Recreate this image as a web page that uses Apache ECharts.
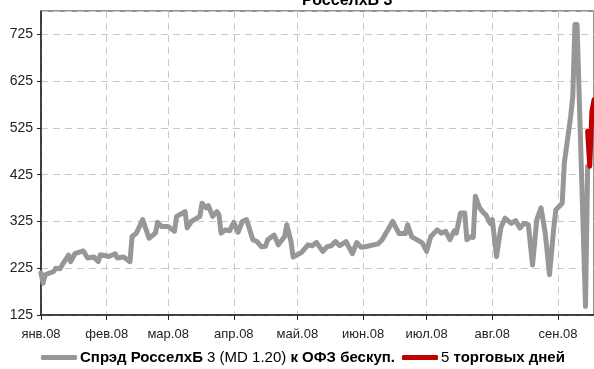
<!DOCTYPE html>
<html><head><meta charset="utf-8">
<script src="https://cdn.jsdelivr.net/npm/echarts@6/dist/echarts.min.js"></script>
<style>html,body{margin:0;padding:0;background:#fff}#c{width:594px;height:369px}</style>
</head><body><div id="c"></div>
<script>
const grayDates = [
'2008-01-01','2008-01-02','2008-01-03','2008-01-07','2008-01-08','2008-01-10','2008-01-11','2008-01-14','2008-01-15','2008-01-17',
'2008-01-21','2008-01-23','2008-01-26','2008-01-28','2008-01-29','2008-02-02','2008-02-05','2008-02-06','2008-02-09','2008-02-12',
'2008-02-13','2008-02-15','2008-02-18','2008-02-21','2008-02-24','2008-02-25','2008-02-27','2008-03-01','2008-03-04','2008-03-05',
'2008-03-09','2008-03-10','2008-03-12','2008-03-16','2008-03-17','2008-03-19','2008-03-20','2008-03-22','2008-03-24','2008-03-25',
'2008-03-26','2008-03-28','2008-03-30','2008-04-01','2008-04-03','2008-04-05','2008-04-07','2008-04-10','2008-04-12','2008-04-14',
'2008-04-16','2008-04-17','2008-04-20','2008-04-22','2008-04-25','2008-04-26','2008-04-28','2008-04-29','2008-05-03','2008-05-06',
'2008-05-08','2008-05-10','2008-05-13','2008-05-15','2008-05-17','2008-05-19','2008-05-21','2008-05-24','2008-05-27','2008-05-29',
'2008-05-31','2008-06-02','2008-06-08','2008-06-10','2008-06-15','2008-06-18','2008-06-21','2008-06-22','2008-06-24','2008-06-28',
'2008-06-29','2008-07-01','2008-07-03','2008-07-06','2008-07-08','2008-07-10','2008-07-12','2008-07-14','2008-07-15','2008-07-17',
'2008-07-19','2008-07-20','2008-07-22','2008-07-23','2008-07-24','2008-07-26','2008-07-28','2008-07-29','2008-07-31','2008-08-01',
'2008-08-03','2008-08-05','2008-08-07','2008-08-10','2008-08-12','2008-08-14','2008-08-16','2008-08-18','2008-08-20','2008-08-22',
'2008-08-24','2008-08-26','2008-08-28','2008-08-30','2008-08-31','2008-09-03','2008-09-04','2008-09-07','2008-09-08','2008-09-09',
'2008-09-10','2008-09-14','2008-09-15'
];
const grayValues = [
215,193,211,218,225,224,232,253,239,256,
262,247,249,239,254,250,256,247,249,239,
293,300,329,289,300,323,314,314,304,336,
346,311,325,336,364,354,359,336,346,339,
300,307,305,323,302,325,329,286,282,271,
272,286,296,275,293,318,282,249,259,275,
273,280,261,271,273,282,273,282,256,280,
270,271,277,286,325,299,299,318,292,282,
279,261,293,307,300,304,286,305,300,343,
343,286,293,291,379,354,343,339,321,329,
250,311,332,321,327,311,321,318,232,329,
354,300,211,311,350,364,450,550,593,746,
746,143,443
];
const redDates = ['2008-09-15','2008-09-16','2008-09-17','2008-09-18'];
const redValues = [518,443,560,585];
const monthNames = ['янв','фев','мар','апр','май','июн','июл','авг','сен','окт','ноя','дек'];
const yMin = 125, yMax = 775, yStep = 100;
const seriesNames = ['spread','days5'];

const chart = echarts.init(document.getElementById('c'), null, {renderer:'canvas'});
const narrow = '"Liberation Sans Narrow","Arial Narrow","Liberation Sans",Arial,sans-serif';
chart.setOption({
  animation:false,
  backgroundColor:'#fff',
  title:{text:'РосселхБ 3', left:297, top:-12, textStyle:{fontFamily:'"Liberation Sans",Arial,sans-serif', fontWeight:'bold', fontSize:16, color:'#000'}},
  grid:{left:41, top:11, right:-2, bottom:54, show:true, borderColor:'#222', borderWidth:1, containLabel:false},
  xAxis:{
    type:'time', min:'2008-01-01', max:'2008-09-18', minInterval:28*86400000, splitNumber:9,
    axisLine:{show:true, lineStyle:{color:'#222', width:1.5}},
    axisTick:{show:true, length:5, lineStyle:{color:'#222'}},
    axisLabel:{showMaxLabel:false, margin:13, fontFamily:narrow, fontSize:13, color:'#222',
      formatter:function(v){const d=new Date(v);return monthNames[d.getMonth()]+'.'+String(d.getFullYear()).slice(2);}},
    splitLine:{show:true, lineStyle:{color:'#c8c8c8', type:[7,5], width:1}}
  },
  yAxis:{
    type:'value', min:yMin, max:yMax, interval:yStep,
    axisLine:{show:true, lineStyle:{color:'#222', width:1.5}},
    axisTick:{show:true, length:4, lineStyle:{color:'#222'}},
    axisLabel:{showMaxLabel:false, margin:8, fontFamily:narrow, fontSize:14, color:'#222'},
    splitLine:{show:true, lineStyle:{color:'#c8c8c8', type:[7,5], width:1}}
  },
  legend:{
    left:41, top:350, padding:0, itemGap:7, itemWidth:36, itemHeight:5, width:560,
    data:[{name:seriesNames[0], icon:'roundRect'},{name:seriesNames[1], icon:'roundRect'}],
    textStyle:{fontFamily:narrow, fontSize:15, color:'#000', padding:[0,0,0,-2],
      rich:{b:{fontFamily:narrow, fontSize:15, fontWeight:'bold', color:'#000'}, r:{fontFamily:narrow, fontSize:15, fontWeight:'normal', color:'#000'}}},
    formatter:function(n){
      if(n===seriesNames[0]) return '{b|Спрэд РосселхБ} {r|3 (MD 1.20)} {b|к ОФЗ бескуп.}';
      return '{r|5} {b|торговых дней}';
    }
  },
  series:[
    {name:seriesNames[0], type:'line', data:grayDates.map((d,i)=>[d,grayValues[i]]), showSymbol:false, symbol:'none',
     lineStyle:{color:'#979797', width:5, join:'round', cap:'round'}, itemStyle:{color:'#979797'}, clip:true},
    {name:seriesNames[1], type:'line', data:redDates.map((d,i)=>[d,redValues[i]]), showSymbol:false, symbol:'none',
     lineStyle:{color:'#c00000', width:5, join:'round', cap:'round'}, itemStyle:{color:'#c00000'}, clip:true}
  ]
});
</script></body></html>
